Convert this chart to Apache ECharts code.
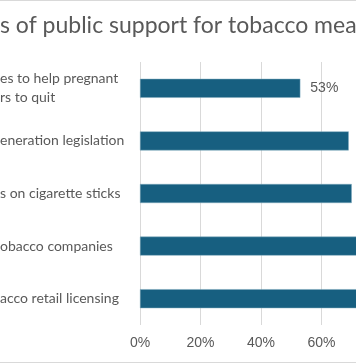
<!DOCTYPE html>
<html><head><meta charset="utf-8">
<script src="https://cdn.jsdelivr.net/npm/echarts@6/dist/echarts.min.js"></script>
<style>html,body{margin:0;padding:0;background:#fff;overflow:hidden}#c{width:356px;height:364px}</style>
</head><body><div id="c"></div>
<script>
const titleText = 's of public support for tobacco mea';
const categories = ['es to help pregnant\nrs to quit', 'eneration legislation', 's on cigarette sticks', 'obacco companies', 'acco retail licensing'];
const support = [53, 69, 70, 74, 77];
const xTicks = [0, 20, 40, 60, 80, 100];

const chart = echarts.init(document.getElementById('c'));
chart.setOption({
  animation: false,
  title: {text: titleText, left: 0, top: 14, padding: 0, textStyle: {fontFamily: 'Lato', fontSize: 23, fontWeight: 'normal', color: '#595959'}},
  graphic: [
    {type: 'line', shape: {x1: 0, y1: 0.5, x2: 356, y2: 0.5}, style: {stroke: '#d9d9d9', lineWidth: 1}},
    {type: 'line', shape: {x1: 0, y1: 362.5, x2: 356, y2: 362.5}, style: {stroke: '#d9d9d9', lineWidth: 1}}
  ],
  grid: {left: 140, top: 62, width: 302.5, height: 263, containLabel: false, outerBoundsMode: 'none'},
  xAxis: {type: 'value', min: xTicks[0], max: xTicks[xTicks.length-1], interval: 20,
    axisLine: {show: false}, axisTick: {show: false},
    splitLine: {lineStyle: {color: '#d9d9d9', width: 1}},
    axisLabel: {formatter: '{value}%', color: '#595959', fontFamily: 'Liberation Sans', fontSize: 14, margin: 11}},
  yAxis: {type: 'category', data: categories, inverse: true,
    axisLine: {show: false}, axisTick: {show: false},
    axisLabel: {align: 'left', margin: 140, color: '#595959', fontFamily: 'Lato', fontSize: 14, lineHeight: 19}},
  series: [{type: 'bar', data: support, barWidth: 19, itemStyle: {color: '#175f80', borderColor: '#7fa8bd', borderWidth: 0.5},
    label: {show: true, position: 'right', distance: 10, formatter: '{c}%', color: '#595959', fontFamily: 'Liberation Sans', fontSize: 14}}]
});
</script></body></html>
